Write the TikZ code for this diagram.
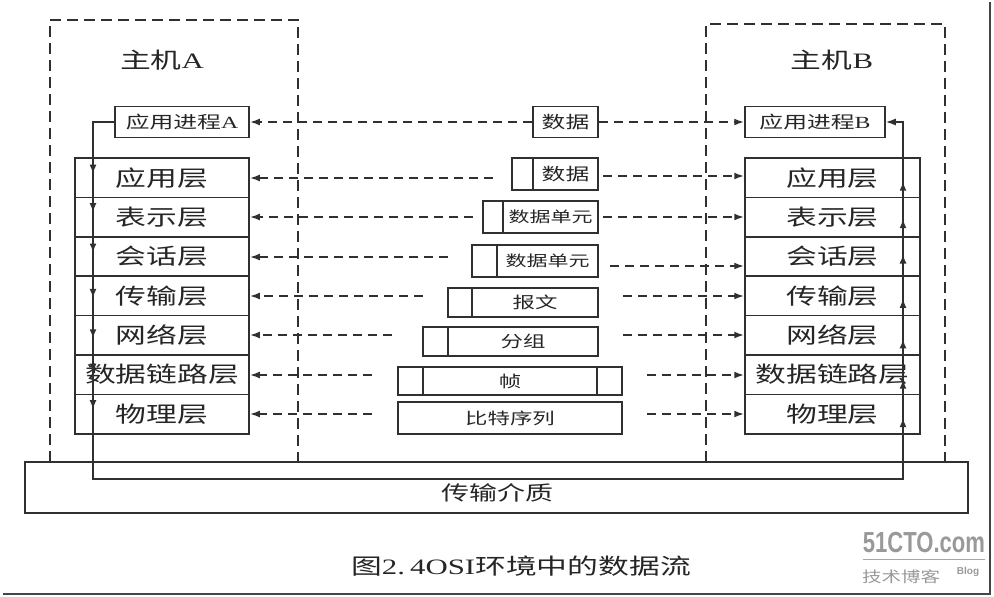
\documentclass[tikz,border=0pt]{standalone}
\usepackage{fontspec}
\usepackage{graphicx}
\setmainfont{Liberation Serif}
\newfontfamily\cjk{Noto Sans CJK SC}
\newfontfamily\wmfont{Liberation Sans}
\usetikzlibrary{arrows.meta,calc}
\definecolor{ln}{HTML}{303030}
\definecolor{tx}{HTML}{262626}
\newcommand\sx[1]{\scalebox{1.4}[1]{#1}}
\begin{document}
\begin{tikzpicture}[x=1pt,y=-1pt,
  box/.style={draw=ln, line width=1.5pt, inner sep=0pt, fill=white, text=tx},
  layer/.style={box, minimum width=174pt, minimum height=39.4pt, font=\cjk\fontsize{22}{22}\selectfont},
  proc/.style={box, minimum height=31pt, font=\cjk\fontsize{17}{17}\selectfont},
  pdu/.style={box, font=\cjk\fontsize{16}{16}\selectfont},
  hostlbl/.style={text=tx, font=\cjk\fontsize{22}{22}\selectfont},
  hostbox/.style={draw=ln, line width=2pt, dash pattern=on 11pt off 6pt},
  dar/.style={draw=ln, line width=2pt, dash pattern=on 9pt off 6pt, -{Latex[length=10pt,width=7pt]}},
  loopline/.style={draw=ln, line width=1.5pt},
  tip/.style={-{Latex[length=10pt,width=7pt]}},
  midtip/.style={draw=ln, line width=1.5pt, -{Latex[length=9pt,width=7pt]}},
]
\useasboundingbox (0,0) rectangle (994,597);
% outer frame (right and bottom)
\draw[ln!90, line width=2pt] (990,2) -- (990,594) -- (3,594);

% host boxes
\draw[hostbox] (50,462) -- (50,20) -- (298,20) -- (298,462);
\draw[hostbox] (706,462) -- (706,24) -- (945,24) -- (945,462);
\node[hostlbl] (hA) at (162,60) {\sx{主机\rmfamily A}};
\node[hostlbl] (hB) at (832,60) {\sx{主机\rmfamily B}};

% transmission medium
\node[box, minimum width=943pt, minimum height=51pt] (med) at (496.5,487.5) {};
\node[text=tx, font=\cjk\fontsize{20}{20}\selectfont] (medt) at (497,493) {\sx{传输介质}};

% processes
\node[proc, minimum width=134pt] (pa) at (182,122) {\sx{应用进程\rmfamily A}};
\node[proc, minimum width=140pt] (pb) at (815,122) {\sx{应用进程\rmfamily B}};

% layer stacks
\node[layer] (a1) at (162,177.7) {\sx{应用层}};
\node[layer] (a2) at (162,217.1) {\sx{表示层}};
\node[layer] (a3) at (162,256.5) {\sx{会话层}};
\node[layer] (a4) at (162,295.9) {\sx{传输层}};
\node[layer] (a5) at (162,335.3) {\sx{网络层}};
\node[layer] (a6) at (162,374.7) {\sx{数据链路层}};
\node[layer] (a7) at (162,414.1) {\sx{物理层}};
\node[layer, minimum width=175pt] (b1) at (832.5,177.7) {\sx{应用层}};
\node[layer, minimum width=175pt] (b2) at (832.5,217.1) {\sx{表示层}};
\node[layer, minimum width=175pt] (b3) at (832.5,256.5) {\sx{会话层}};
\node[layer, minimum width=175pt] (b4) at (832.5,295.9) {\sx{传输层}};
\node[layer, minimum width=175pt] (b5) at (832.5,335.3) {\sx{网络层}};
\node[layer, minimum width=175pt] (b6) at (832.5,374.7) {\sx{数据链路层}};
\node[layer, minimum width=175pt] (b7) at (832.5,414.1) {\sx{物理层}};

% data units in the middle
\node[pdu, minimum width=65pt, minimum height=31pt, font=\cjk\fontsize{17}{17}\selectfont] (m0) at (565.5,122) {\sx{数据}};
\node[pdu, minimum width=21pt, minimum height=32pt] (h1) at (522.5,174) {};
\node[pdu, minimum width=65pt, minimum height=32pt, font=\cjk\fontsize{17}{17}\selectfont] (m1) at (565.5,174) {\sx{数据}};
\node[pdu, minimum width=20pt, minimum height=32pt] (h2) at (493,217) {};
\node[pdu, minimum width=95pt, minimum height=32pt, font=\cjk\fontsize{15}{15}\selectfont] (m2) at (550.5,217) {\sx{数据单元}};
\node[pdu, minimum width=25pt, minimum height=32pt] (h3) at (484.5,261) {};
\node[pdu, minimum width=101pt, minimum height=32pt, font=\cjk\fontsize{15}{15}\selectfont] (m3) at (547.5,261) {\sx{数据单元}};
\node[pdu, minimum width=24pt, minimum height=29pt] (h4) at (460,302.5) {};
\node[pdu, minimum width=126pt, minimum height=29pt] (m4) at (535,302.5) {\sx{报文}};
\node[pdu, minimum width=25pt, minimum height=29pt] (h5) at (435.5,341.5) {};
\node[pdu, minimum width=150pt, minimum height=29pt] (m5) at (523,341.5) {\sx{分组}};
\node[pdu, minimum width=25pt, minimum height=28pt] (h6) at (410.5,381) {};
\node[pdu, minimum width=174pt, minimum height=28pt] (m6) at (510,381) {\sx{帧}};
\node[pdu, minimum width=25pt, minimum height=28pt] (t6) at (609.5,381) {};
\node[pdu, minimum width=224pt, minimum height=32pt] (m7) at (510,418) {\sx{比特序列}};

% peer dashed arrows
\draw[dar] (m0.west) -- (pa.east);
\draw[dar] (m0.east) -- (pb.west);
\coordinate (l1) at (493,178);
\coordinate (l2) at (473,217);
\coordinate (l3) at (448,257);
\coordinate (l4) at (423,296);
\coordinate (l5) at (392,335);
\coordinate (l6) at (372,375);
\coordinate (l7) at (372,414);
\coordinate (r1) at (603,176);
\coordinate (r2) at (603,217);
\coordinate (r3) at (610,266);
\coordinate (r4) at (623,296);
\coordinate (r5) at (623,335);
\coordinate (r6) at (647,375);
\coordinate (r7) at (647,414);
\foreach \i in {1,...,7}{
  \draw[dar] (l\i) -- (l\i -| a\i.east);
  \draw[dar] (r\i) -- (r\i -| b\i.west);
}

% data flow loop
\coordinate (ba) at (93,479);
\coordinate (bb) at (903,479);
\draw[loopline, tip] (pa.west) -| (ba) -- (bb) |- (pb.east);
% direction marks along the loop
\foreach \i/\da/\db in {1/-4/4, 2/-5/2, 3/-4/-2, 4/2/3, 5/3/4, 6/-2/5, 7/-5/4}{
  \draw[midtip] ($(ba |- a\i.center)+(0,\da-10)$) -- ($(ba |- a\i.center)+(0,\da)$);
  \draw[midtip] ($(bb |- b\i.center)+(0,\db+10)$) -- ($(bb |- b\i.center)+(0,\db)$);
}

% caption
\node[text=tx, font=\cjk\fontsize{22}{22}\selectfont] (cap) at (521,566) {\sx{图\rmfamily 2.\,4OSI\cjk 环境中的数据流}};

% watermark
\node[text=gray!80, font=\wmfont\bfseries\fontsize{29}{29}\selectfont] (wm1) at (924,543) {\scalebox{0.76}[1]{51CTO.com}};
\draw[gray!70, line width=1pt] (863,559) -- (985,559);
\node[text=gray!80, font=\cjk\fontsize{15}{15}\selectfont] (wm2) at (901,577) {\scalebox{1.3}[1]{技术博客}};
\node[text=gray!80, font=\wmfont\bfseries\fontsize{10}{10}\selectfont] (wm3) at (968,572) {Blog};
\end{tikzpicture}
\end{document}
